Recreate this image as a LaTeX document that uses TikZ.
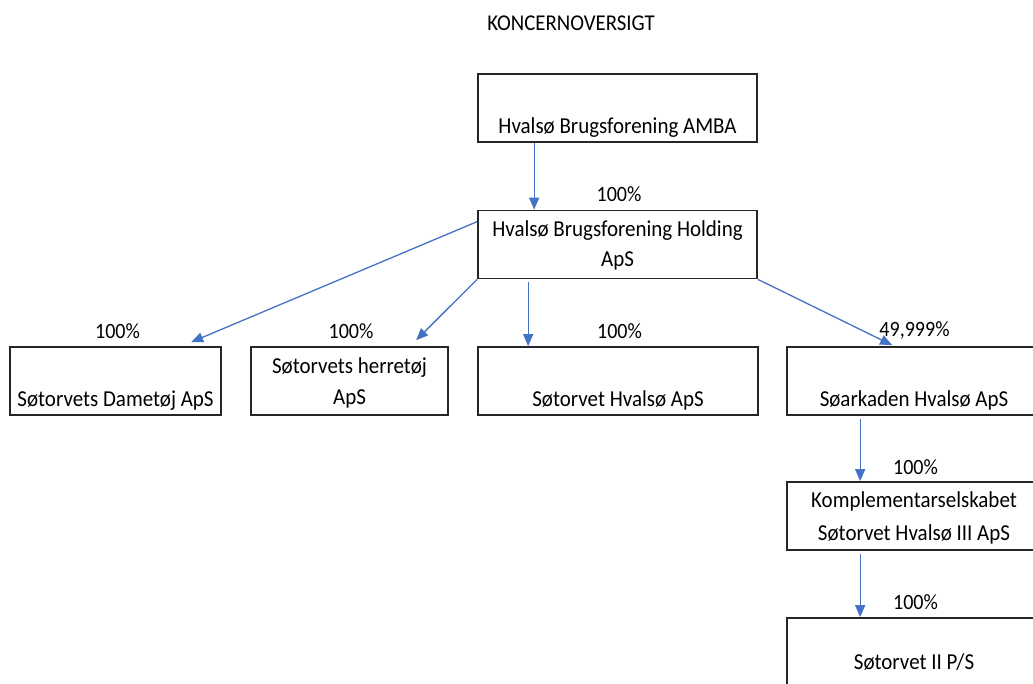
\documentclass[tikz,border=0pt]{standalone}
\usepackage{fontspec}
\setmainfont{Carlito}[FakeStretch=0.92]
\usetikzlibrary{arrows.meta,calc}
\definecolor{arrowblue}{RGB}{68,114,196}
\newcommand\oneln[2]{\raisebox{0pt}[0pt][0pt]{\makebox[0pt]{\raisebox{-#1}{#2}}}}
\newcommand\twoln[4]{\raisebox{0pt}[0pt][0pt]{\makebox[0pt]{\raisebox{-#1}{#3}}\makebox[0pt]{\raisebox{-#2}{#4}}}}
\begin{document}
\begin{tikzpicture}[x=1pt,y=-1pt,
  box/.style={draw=black!85,line width=1.7pt,minimum height=68pt,inner sep=0pt,font=\fontsize{22.8}{30}\selectfont},
  pct/.style={font=\fontsize{21.8}{25}\selectfont,inner sep=0pt,anchor=base},
  conn/.style={draw=arrowblue,line width=1.3pt,-{Triangle[width=10pt,length=12pt]}}]
\useasboundingbox (0,0) rectangle (1033,684);
\clip (0,0) rectangle (1033,684);
\node[pct,font=\fontsize{22.6}{25}\selectfont] (title) at (571,31) {KONCERNOVERSIGT};
\node[box,minimum width=279pt] (amba) at (617.5,108) {\oneln{26pt}{Hvalsø Brugsforening AMBA}};
\node[box,minimum width=279pt] (holding) at (617.5,244.5) {\twoln{-7.5pt}{22.5pt}{Hvalsø Brugsforening Holding}{ApS}};
\node[box,minimum width=211pt] (dam) at (115.5,381) {\oneln{25pt}{Søtorvets Dametøj ApS}};
\node[box,minimum width=197pt] (herre) at (349.5,381) {\twoln{-7pt}{24pt}{Søtorvets herretøj}{ApS}};
\node[box,minimum width=280pt] (hvalso) at (618,381) {\oneln{25pt}{Søtorvet Hvalsø ApS}};
\node[box,minimum width=254pt] (soark) at (914,381) {\oneln{25pt}{Søarkaden Hvalsø ApS}};
\node[box,minimum width=254pt] (kompl) at (914,516) {\twoln{-8.5pt}{24.5pt}{Komplementarselskabet}{Søtorvet Hvalsø III ApS}};
\node[box,minimum width=254pt] (s2) at (914,652) {\oneln{17pt}{Søtorvet II P/S}};
\node[pct] (p1) at (619,202) {100\%};
\node[pct] (p2) at (117.5,338) {100\%};
\node[pct] (p3) at (351,338) {100\%};
\node[pct] (p4) at (619.5,338) {100\%};
\node[pct] (p5) at (914.5,337) {49,999\%};
\node[pct] (p6) at (915.5,474) {100\%};
\node[pct] (p7) at (915.5,609) {100\%};
\draw[conn] ($(amba.south west)+(57,0)$) -- ($(holding.north west)+(57,0)$);
\draw[conn] ($(holding.north west)+(0,12)$) -- ($(dam.north west)+(182,-4)$);
\draw[conn] (holding.south west) -- ($(herre.north west)+(166,-6)$);
\draw[conn] ($(holding.south west)+(51,3)$) -- ($(hvalso.north west)+(51,0)$);
\draw[conn] (holding.south east) -- ($(soark.north west)+(106,-1)$);
\draw[conn] ($(soark.south west)+(74,3)$) -- ($(kompl.north west)+(74,0)$);
\draw[conn] ($(kompl.south west)+(74,3)$) -- ($(s2.north west)+(74,0)$);
\end{tikzpicture}
\end{document}
